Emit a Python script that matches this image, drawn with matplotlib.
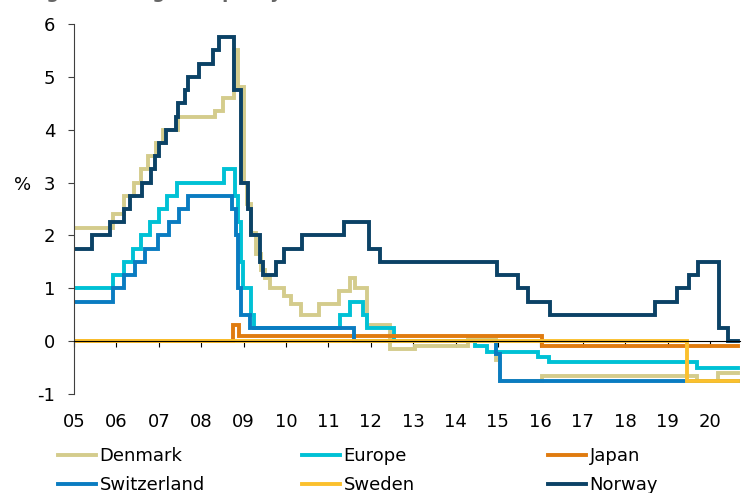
import matplotlib
matplotlib.use('Agg')
import matplotlib.pyplot as plt

plt.rcParams['font.family'] = ['DejaVu Sans']
plt.rcParams['axes.unicode_minus'] = False

# policy rates, change dates as decimal years (step data), last entry = end of series
dk_t = [2005.0, 2005.92, 2006.18, 2006.42, 2006.58, 2006.75, 2006.93, 2007.1, 2007.45,
        2008.33, 2008.52, 2008.77, 2008.87, 2009.0, 2009.08, 2009.18, 2009.3, 2009.4,
        2009.5, 2009.62, 2009.95, 2010.12, 2010.35, 2010.78, 2011.25, 2011.5, 2011.62,
        2011.9, 2012.45, 2013.05, 2014.3, 2014.95, 2015.05, 2016.05, 2019.7, 2020.2, 2020.67]
dk_v = [2.15, 2.40, 2.75, 3.00, 3.25, 3.50, 3.75, 4.00, 4.25,
        4.35, 4.60, 5.50, 4.80, 3.00, 2.60, 2.05, 1.65, 1.35,
        1.20, 1.00, 0.85, 0.70, 0.50, 0.70, 0.95, 1.20, 1.00,
        0.30, -0.15, -0.10, 0.05, -0.35, -0.75, -0.65, -0.75, -0.60, -0.60]

eu_t = [2005.0, 2005.93, 2006.17, 2006.4, 2006.58, 2006.8, 2007.0, 2007.2, 2007.43,
        2008.53, 2008.8, 2008.87, 2008.93, 2008.98, 2009.17, 2009.25, 2011.28, 2011.5,
        2011.82, 2011.92, 2012.55, 2014.45, 2014.75, 2015.95, 2016.2, 2019.7, 2020.67]
eu_v = [1.0, 1.25, 1.5, 1.75, 2.0, 2.25, 2.5, 2.75, 3.0,
        3.25, 2.75, 2.25, 1.5, 1.0, 0.5, 0.25, 0.5, 0.75,
        0.5, 0.25, 0.0, -0.1, -0.2, -0.3, -0.4, -0.5, -0.5]

jp_t = [2005.0, 2008.75, 2008.9, 2016.05, 2020.67]
jp_v = [0.0, 0.3, 0.1, -0.1, -0.1]

ch_t = [2005.0, 2005.93, 2006.17, 2006.45, 2006.68, 2006.98, 2007.23, 2007.47, 2007.7,
        2008.72, 2008.82, 2008.87, 2008.93, 2009.15, 2011.6, 2014.95, 2015.04, 2020.67]
ch_v = [0.75, 1.0, 1.25, 1.5, 1.75, 2.0, 2.25, 2.5, 2.75,
        2.5, 2.0, 1.0, 0.5, 0.25, 0.0, -0.25, -0.75, -0.75]

se_t = [2005.0, 2019.47, 2020.67]
se_v = [0.0, -0.75, -0.75]

no_t = [2005.0, 2005.42, 2005.86, 2006.18, 2006.31, 2006.6, 2006.82, 2006.92, 2007.0,
        2007.17, 2007.4, 2007.46, 2007.62, 2007.68, 2007.94, 2008.28, 2008.42, 2008.78,
        2008.93, 2009.1, 2009.18, 2009.38, 2009.45, 2009.77, 2009.95, 2010.37, 2011.37,
        2011.95, 2012.22, 2014.97, 2015.48, 2015.72, 2016.23, 2018.7, 2019.22, 2019.5,
        2019.73, 2020.22, 2020.43, 2020.67]
no_v = [1.75, 2.0, 2.25, 2.5, 2.75, 3.0, 3.25, 3.5, 3.75,
        4.0, 4.25, 4.5, 4.75, 5.0, 5.25, 5.5, 5.75, 4.75,
        3.0, 2.5, 2.0, 1.5, 1.25, 1.5, 1.75, 2.0, 2.25,
        1.75, 1.5, 1.25, 1.0, 0.75, 0.5, 0.75, 1.0, 1.25,
        1.5, 0.25, 0.0, 0.0]

years = list(range(2005, 2021))
year_labels = ['05', '06', '07', '08', '09', '10', '11', '12', '13', '14', '15',
               '16', '17', '18', '19', '20']
y_ticks = [-1, 0, 1, 2, 3, 4, 5, 6]

series = [
    ('Denmark', dk_t, dk_v, '#d4cc8c'),
    ('Europe', eu_t, eu_v, '#00c1d5'),
    ('Japan', jp_t, jp_v, '#e07b0f'),
    ('Switzerland', ch_t, ch_v, '#0a7cc1'),
    ('Sweden', se_t, se_v, '#fbc02d'),
    ('Norway', no_t, no_v, '#0b4266'),
]

fig = plt.figure(figsize=(7.42, 4.93), dpi=100)
ax = fig.add_axes([74 / 742, 1 - 394 / 493, 666 / 742, 370 / 493])

handles = {}
for name, t, v, c in series:
    ln, = ax.plot(t, v, drawstyle='steps-post', color=c, lw=2.8, label=name,
                  solid_joinstyle='miter')
    handles[name] = ln

ax.set_xlim(2005, 2020.71)
ax.set_ylim(-1, 6)

ax.spines['top'].set_visible(False)
ax.spines['right'].set_visible(False)
ax.spines['left'].set_color('#404040')
ax.spines['bottom'].set_position(('data', 0))
ax.spines['bottom'].set_color('black')
ax.spines['bottom'].set_linewidth(0.8)

ax.set_yticks(y_ticks, labels=[str(v) for v in y_ticks])
ax.set_xticks(years, labels=year_labels)
ax.tick_params(axis='y', direction='out', length=4.5, width=0.8, color='#404040',
               labelsize=13, pad=9)
ax.tick_params(axis='x', direction='out', length=4, width=0.8, color='black',
               labelsize=13, pad=48)

ax.set_ylabel('%', rotation=0, fontsize=13, va='center', ha='center')
ax.yaxis.set_label_coords(-0.077, 0.565)

# heading, mostly above the top edge as in the source image
fig.text(28 / 742, 1 + 2 / 493, 'Figure 3: Negative policy rates', fontsize=13,
         fontweight='bold', color='#666666', ha='left', va='baseline')

# legend laid out in three evenly spaced columns
cols = [('Denmark', 'Switzerland'), ('Europe', 'Sweden'), ('Japan', 'Norway')]
col_x = [58, 302, 548]
for names, x in zip(cols, col_x):
    fig.legend([handles[n] for n in names], list(names), loc='upper left',
               bbox_to_anchor=(x / 742, 1 - 447 / 493), frameon=False, fontsize=13,
               handlelength=2.1, handletextpad=0.2, labelspacing=0.62,
               borderpad=0, borderaxespad=0)

fig.savefig('out.png', dpi=100)
